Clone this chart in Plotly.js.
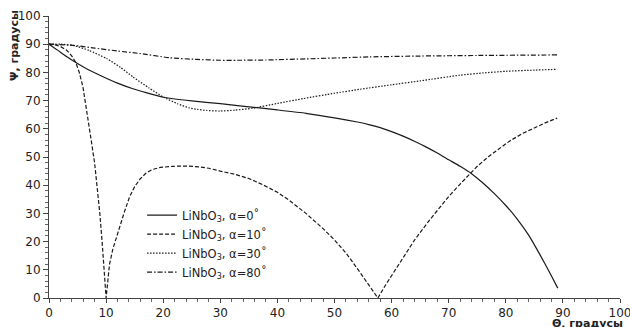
<!DOCTYPE html>
<html>
<head>
<meta charset="utf-8">
<script src="https://cdn.plot.ly/plotly-3.0.1.min.js"></script>
<style>html,body{margin:0;padding:0;background:#fff;}#chart{width:630px;height:327px;}</style>
</head>
<body>
<div id="chart"></div>
<script>
// α = 0°
const theta0 = [0, 1.5, 3, 4.7, 6.5, 8.9, 12, 14.7, 17, 20, 25, 30, 36.9, 40, 45, 50, 54, 56, 58, 60, 62, 64, 66, 68, 70, 72, 74, 76, 78, 80, 82, 84, 86, 88, 89.1];
const psi0   = [90, 87.9, 85.7, 83.5, 81.4, 79, 76.2, 74.2, 72.8, 71.2, 69.9, 68.9, 67.4, 66.7, 65.5, 63.9, 62.4, 61.5, 60.4, 59, 57.4, 55.6, 53.6, 51.4, 49, 46.7, 44.1, 40.8, 37, 32.8, 28, 22.3, 15.3, 7.8, 3.5];
// α = 10°
const theta10 = [0, 1, 2, 3, 3.5, 4, 4.7, 5.3, 5.95, 6.5, 7, 7.5, 8, 8.5, 8.9, 9.3, 9.6, 10, 10.3, 10.6, 11.2, 11.8, 12.4, 13.2, 14.1, 15, 16, 17, 18, 19.5, 21.7, 24, 26.4, 28, 30, 32.5, 35.1, 37.5, 40, 42.1, 45, 48, 50, 52, 53.8, 55, 56.5, 57.6, 59, 60, 62, 64, 66.4, 68, 70, 72, 73.7, 75, 77, 79, 80.7, 83, 85, 87, 89];
const psi10   = [90, 89.8, 89.2, 88, 87, 85.8, 83.5, 80, 74.8, 68, 61.5, 54.5, 47.7, 38.5, 30, 20, 12.2, 0, 6, 12, 17.5, 21.5, 25, 30.5, 35.8, 39.5, 42.3, 44.3, 45.5, 46.3, 46.7, 46.8, 46.5, 46, 45, 43.9, 42.3, 40.1, 37.5, 34.6, 30, 24.6, 20.6, 16, 11, 7.5, 3.3, 0, 4.8, 8, 14.5, 20.5, 27, 31, 36, 40.4, 44, 46.7, 50.2, 53.3, 55.7, 58.4, 60.4, 62.2, 63.8];
// α = 30°
const theta30 = [0, 2, 4.2, 7, 10.1, 12.5, 14.7, 17.5, 20, 22.5, 24.6, 26, 27.6, 29.9, 32.5, 35.7, 40, 44.5, 50, 54.4, 60, 65, 71.9, 76, 80, 85, 89];
const psi30   = [90, 90, 89.6, 87.8, 84.9, 81.8, 78.4, 74.5, 71.3, 68.9, 67.4, 66.9, 66.5, 66.3, 66.6, 67.3, 69, 70.7, 72.6, 74, 75.6, 77, 79, 79.8, 80.4, 80.8, 81.1];
// α = 80°
const theta80 = [0, 4.2, 8, 12, 15.9, 21.1, 26, 30, 33, 38, 45, 50, 56.2, 65, 75, 89];
const psi80   = [90, 89.6, 88.6, 87.6, 86.7, 85.2, 84.6, 84.3, 84.3, 84.4, 84.8, 85.1, 85.5, 85.8, 86.0, 86.2];

const seriesNames = ["LiNbO<sub>3</sub>, α=0˚", "LiNbO<sub>3</sub>, α=10˚", "LiNbO<sub>3</sub>, α=30˚", "LiNbO<sub>3</sub>, α=80˚"];
const xTitle = "Θ, градусы";
const yTitle = "Ψ, градусы";

const lineColor = "#1a1a1a";
const dashes = ["solid", "4px,2px", "1.5px,1.5px", "5px,2px,1.5px,2px"];
const shapes = ["spline", "linear", "spline", "spline"];
const xs = [theta0, theta10, theta30, theta80];
const ys = [psi0, psi10, psi30, psi80];

const data = xs.map((x, i) => ({
  x: x, y: ys[i], type: "scatter", mode: "lines", name: seriesNames[i],
  line: {color: lineColor, width: 1.2, dash: dashes[i], shape: shapes[i], smoothing: 0.5}
}));

const font = "DejaVu Sans, Verdana, sans-serif";
const layout = {
  width: 630, height: 327,
  margin: {l: 49, r: 10, t: 16, b: 29},
  paper_bgcolor: "#fff", plot_bgcolor: "#fff",
  font: {family: font, size: 12, color: "#222"},
  showlegend: true,
  legend: {x: 0.163, y: 0.345, xanchor: "left", yanchor: "top", bgcolor: "rgba(0,0,0,0)",
           font: {family: font, size: 11.5, color: "#222"}, tracegroupgap: 0},
  xaxis: {range: [0, 100], dtick: 10, tick0: 0, showgrid: false, zeroline: false,
          showline: true, linecolor: "#444", linewidth: 1, ticks: "outside", ticklen: 4, tickcolor: "#444",
          ticklabeloverflow: "allow",
          minor: {dtick: 2, ticks: "outside", ticklen: 3, tickcolor: "#666"},
          tickfont: {family: font, size: 12, color: "#222"}},
  yaxis: {range: [0, 100], dtick: 10, tick0: 0, showgrid: false, zeroline: false,
          showline: true, linecolor: "#444", linewidth: 1, ticks: "outside", ticklen: 5, tickcolor: "#444",
          ticklabeloverflow: "allow",
          minor: {dtick: 2, ticks: "outside", ticklen: 3, tickcolor: "#666"},
          tickfont: {family: font, size: 12, color: "#222"}},
  annotations: [
    {text: "<b>" + yTitle + "</b>", xref: "paper", yref: "paper", x: -0.0595, y: 0.894,
     xanchor: "center", yanchor: "middle",
     textangle: -90, showarrow: false, font: {family: font, size: 11, color: "#222"}},
    {text: "<b>" + xTitle + "</b>", xref: "paper", yref: "paper", x: 1.0088, y: -0.0887,
     xanchor: "right", yanchor: "middle",
     showarrow: false, font: {family: font, size: 11, color: "#222"}}
  ]
};

Plotly.newPlot("chart", data, layout, {staticPlot: true, displayModeBar: false});
</script>
</body>
</html>
